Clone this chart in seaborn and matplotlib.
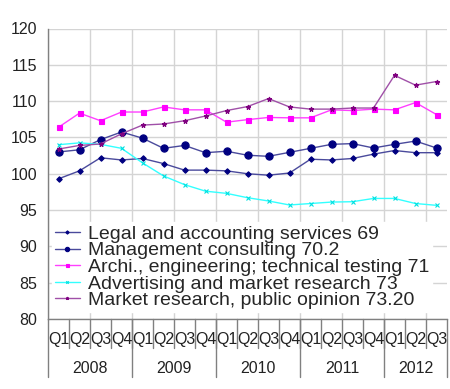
import pandas as pd
import numpy as np
import matplotlib
matplotlib.use('Agg')
import matplotlib.pyplot as plt
import seaborn as sns

# quarterly index values, Q1 2008 .. Q3 2012
quarters = ['Q1', 'Q2', 'Q3', 'Q4'] * 4 + ['Q1', 'Q2', 'Q3']
years = ['2008', '2009', '2010', '2011', '2012']
year_len = [4, 4, 4, 4, 3]

legal = [99.3, 100.4, 102.2, 101.9, 102.1, 101.4, 100.5, 100.5, 100.4, 100.0,
         99.8, 100.1, 102.0, 101.9, 102.1, 102.7, 103.2, 102.9, 102.9]
management = [103.0, 103.3, 104.7, 105.75, 104.9, 103.5, 103.9, 102.9, 103.1, 102.55,
              102.4, 102.95, 103.5, 104.05, 104.15, 103.55, 104.05, 104.5, 103.55]
archi = [106.4, 108.35, 107.3, 108.5, 108.5, 109.2, 108.8, 108.8, 107.1, 107.45,
         107.75, 107.7, 107.7, 108.8, 108.7, 108.9, 108.8, 109.8, 108.15]
advertising = [104.0, 104.25, 104.05, 103.5, 101.5, 99.7, 98.5, 97.6, 97.3, 96.7,
               96.25, 95.7, 95.9, 96.1, 96.15, 96.6, 96.6, 95.9, 95.65]
market = [103.4, 103.9, 104.1, 105.5, 106.7, 106.85, 107.3, 107.95, 108.7, 109.25,
          110.35, 109.2, 108.9, 108.9, 109.05, 109.05, 113.55, 112.2, 112.7]

series_names = ['Legal and accounting services 69',
                'Management consulting 70.2',
                'Archi., engineering; technical testing 71',
                'Advertising and market research 73',
                'Market research, public opinion 73.20']

sns.set_style('white')
plt.rcParams['font.family'] = ['Liberation Sans', 'DejaVu Sans']

df = pd.DataFrame({'pos': np.arange(len(quarters))})
for name, vals in zip(series_names, [legal, management, archi, advertising, market]):
    df[name] = vals
long = df.melt(id_vars='pos', var_name='series', value_name='value')

fig = plt.figure(figsize=(4.5, 3.89), dpi=100)
ax = fig.add_axes([48 / 450, 70 / 389, 399 / 450, 290.5 / 389])

styles = {
    series_names[0]: dict(color='#4a4a9c', marker='D', ms=2.8, mfc='#000080', mec='#000080'),
    series_names[1]: dict(color='#4a4a9c', marker='o', ms=5.2, mfc='#000080', mec='#000080'),
    series_names[2]: dict(color='#ff40ff', marker='s', ms=3.6, mfc='#ff00ff', mec='#ff00ff'),
    series_names[3]: dict(color='#33ffff', marker='x', ms=3, mfc='#00e0e0', mec='#00e0e0'),
    series_names[4]: dict(color='#a050a8', marker='*', ms=3.5, mfc='#800080', mec='#800080'),
}

for name in series_names:
    st = styles[name]
    sns.lineplot(data=long[long['series'] == name], x='pos', y='value', ax=ax,
                 color=st['color'], marker=st['marker'], markersize=st['ms'],
                 markerfacecolor=st['mfc'], markeredgecolor=st['mec'],
                 markeredgewidth=0.8, linewidth=1.0, label=name)

ax.set_xlim(-0.5, len(quarters) - 0.5)
ax.set_ylim(80, 120)
ax.set_yticks(range(80, 121, 5))
ax.set_xticks(np.arange(-0.5, len(quarters), 2), minor=False)
ax.grid(True, color='#d4d4d4', linewidth=1)
ax.set_axisbelow(True)
ax.set_xlabel('')
ax.set_ylabel('')

for s in ['top', 'right']:
    ax.spines[s].set_visible(False)
for s in ['left', 'bottom']:
    ax.spines[s].set_color('#808080')
    ax.spines[s].set_linewidth(1)

ax.tick_params(axis='y', length=5, width=1, color='#808080', labelsize=11.5, pad=3, labelcolor='#222222')
ax.tick_params(axis='x', length=0, labelbottom=False)

# quarter labels and separators
tr = ax.get_xaxis_transform()
for i, q in enumerate(quarters):
    ax.text(i, -0.07, q, transform=tr, ha='center', va='center', fontsize=11.5, color='#222222')
for b in np.arange(0.5, len(quarters) - 1, 1):
    ax.plot([b, b], [0, -0.1], transform=tr, color='#808080', lw=1, clip_on=False)
start = 0
for y, n in zip(years, year_len):
    ax.plot([start - 0.5, start - 0.5], [0, -0.2], transform=tr, color='#808080', lw=1, clip_on=False)
    ax.text(start + (n - 1) / 2, -0.17, y, transform=tr, ha='center', va='center', fontsize=11.5, color='#222222')
    start += n
ax.plot([start - 0.5, start - 0.5], [0, -0.2], transform=tr, color='#808080', lw=1, clip_on=False)

leg = ax.legend(loc='lower left', bbox_to_anchor=(0.0, 0.01), frameon=True, fontsize=14,
                handlelength=1.3, handletextpad=0.4, labelspacing=-0.05, borderpad=0.15,
                borderaxespad=0.2, fancybox=False, markerscale=0.6)
leg.get_frame().set_edgecolor('white')
leg.get_frame().set_facecolor('white')
leg.get_frame().set_alpha(1)

fig.savefig('out.png', dpi=100)
